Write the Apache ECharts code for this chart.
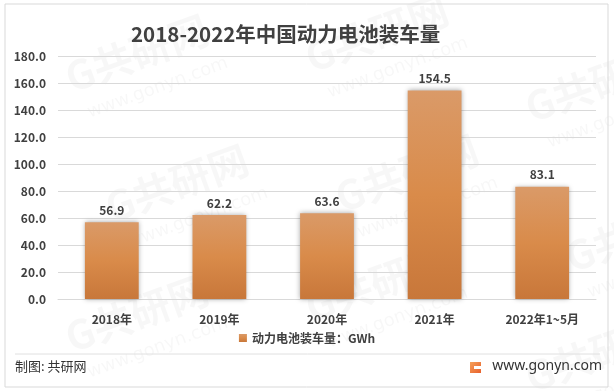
<!DOCTYPE html>
<html><head><meta charset="utf-8">
<script src="https://cdn.jsdelivr.net/npm/echarts@6/dist/echarts.min.js"></script>
<style>html,body{margin:0;padding:0;background:#fff}#c{width:614px;height:391px}</style>
</head><body><div id="c"></div>
<script>
const categories = ['2018年','2019年','2020年','2021年','2022年1~5月'];
const values = [56.9, 62.2, 63.6, 154.5, 83.1];
const seriesName = '动力电池装车量：GWh';
const titleText = '2018-2022年中国动力电池装车量';

const numFont = "'Liberation Sans Narrow','Noto Sans CJK SC',sans-serif";
const cjkFont = "'Noto Sans CJK SC',sans-serif";
const chart = echarts.init(document.getElementById('c'), null, {renderer:'canvas'});

const wm = [];
const wmPos = [[60,60],[300,40],[520,90],[100,190],[330,180],[560,240],[60,320],[300,290],[520,360]];
wmPos.forEach(p=>{
  wm.push({type:'text', x:p[0], y:p[1], rotation:0.35, silent:true, z:-1,
    style:{text:'G共研网', fill:'rgba(0,0,0,0.03)', font:"bold 40px 'Noto Sans CJK SC'"}});
  wm.push({type:'text', x:p[0]+25, y:p[1]+45, rotation:0.35, silent:true, z:-1,
    style:{text:'www.gonyn.com', fill:'rgba(0,0,0,0.03)', font:"18px 'DejaVu Sans'"}});
});

chart.setOption({
  animation:false,
  title:{text:titleText, left:126, top:19,
    textStyle:{fontFamily:cjkFont, fontSize:20.5, fontWeight:'bold', color:'#404040'}},
  grid:{left:58, right:18, top:56, bottom:92, containLabel:false},
  legend:{bottom:42, left:'center', itemWidth:8, itemHeight:8, icon:'rect', itemGap:4,
    textStyle:{fontFamily:cjkFont, fontSize:12, color:'#404040', fontWeight:'bold'},
    data:[seriesName]},
  xAxis:{type:'category', data:categories,
    axisLine:{lineStyle:{color:'#d9d9d9'}}, axisTick:{show:false},
    axisLabel:{margin:14, color:'#404040', fontWeight:'bold', fontSize:12, fontFamily:cjkFont}},
  yAxis:{type:'value', min:0, max:180, interval:20,
    axisLine:{show:false}, axisTick:{show:false},
    splitLine:{lineStyle:{color:'#d9d9d9'}},
    axisLabel:{margin:12, color:'#404040', fontWeight:'bold', fontSize:12, fontFamily:numFont,
      formatter:v=>v.toFixed(1)}},
  series:[{name:seriesName, type:'bar', data:values, barWidth:'50%',
    itemStyle:{color:new echarts.graphic.LinearGradient(0,0,0,1,[
      {offset:0,color:'#DA9A68'},{offset:0.5,color:'#D98B4A'},{offset:1,color:'#C8773A'}]),
      shadowColor:'rgba(0,0,0,0.35)', shadowBlur:5},
    label:{show:true, position:'top', distance:6, color:'#404040', fontWeight:'bold',
      fontSize:12, fontFamily:numFont, formatter:p=>p.value.toFixed(1)}}],
  graphic:[
    ...wm,
    {type:'rect', shape:{x:5,y:4,width:603,height:383}, silent:true,
      style:{fill:null, stroke:'#d9d9d9', lineWidth:1}},
    {type:'line', shape:{x1:15,y1:354,x2:600,y2:354}, silent:true,
      style:{stroke:'#e0e0e0', lineWidth:1}},
    {type:'text', left:15, top:360, silent:true,
      style:{text:'制图: 共研网', fill:'#333', font:"13px 'Noto Sans CJK SC'"}},
    {type:'text', right:12, top:359, silent:true,
      style:{text:'www.gonyn.com', fill:'#333', font:"14px 'Noto Sans','DejaVu Sans'"}},
    {type:'rect', shape:{x:470,y:362,width:11,height:11}, silent:true,
      style:{fill:new echarts.graphic.LinearGradient(0,0,1,1,[{offset:0,color:'#F5A15A'},{offset:1,color:'#E8602C'}])}},
    {type:'rect', shape:{x:474,y:366,width:7,height:3}, silent:true, style:{fill:'#fff'}}
  ]
});
</script></body></html>
